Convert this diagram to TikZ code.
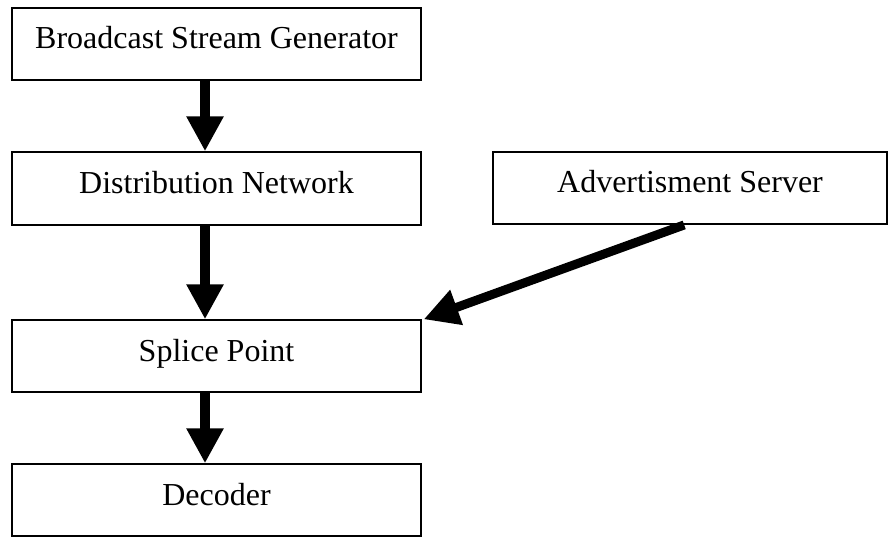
\documentclass[tikz,border=0pt]{standalone}
\usepackage{fontspec}
\setmainfont{Liberation Serif}
\usetikzlibrary{arrows.meta,calc}
\begin{document}
\begin{tikzpicture}[x=1pt,y=-1pt,
  block/.style={draw=black,line width=1.4pt,rectangle,inner sep=0pt,
    minimum height=72pt,text height=22pt,text depth=12pt,
    font=\fontsize{32}{36}\selectfont},
  flow/.style={line width=10pt,-{Triangle[width=35pt,length=35pt]},shorten <=0.7pt}]
\useasboundingbox (0,0) rectangle (888,537);
% processing chain on the left
\node[block,minimum width=409pt] (gen) at (216.5,44) {Broadcast Stream Generator};
\node[block,minimum width=409pt,minimum height=73pt] (dist) at (216.5,188.5) {Distribution Network};
\node[block,minimum width=409pt] (splice) at (216.5,356) {Splice Point};
\node[block,minimum width=409pt] (dec) at (216.5,500) {Decoder};
% ad server on the right
\node[block,minimum width=394pt] (ads) at (690,188) {Advertisment Server};
% arrow anchor points along the box edges
\coordinate (g1) at ($(gen.south west)!0.472!(gen.south east)$);
\coordinate (d0) at ($(dist.north west)!0.472!(dist.north east)$);
\coordinate (d1) at ($(dist.south west)!0.472!(dist.south east)$);
\coordinate (s0) at ($(splice.north west)!0.472!(splice.north east)$);
\coordinate (s1) at ($(splice.south west)!0.472!(splice.south east)$);
\coordinate (c0) at ($(dec.north west)!0.472!(dec.north east)$);
\coordinate (a1) at ($(ads.south west)!0.487!(ads.south east)$);
\draw[flow] (g1) -- (d0);
\draw[flow] (d1) -- (s0);
\draw[flow] (s1) -- (c0);
\draw[flow,line width=9pt] (a1) -- ($(splice.north east)+(2,0)$);
\end{tikzpicture}
\end{document}
